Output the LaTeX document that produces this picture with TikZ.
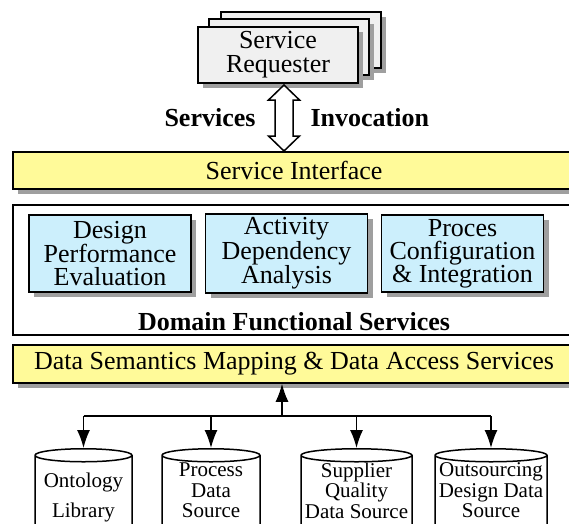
\documentclass[tikz,border=0pt]{standalone}
\usepackage{fontspec}
\setmainfont{Liberation Serif}
\usetikzlibrary{shapes.geometric,shadows,arrows.meta}

\begin{document}
\begin{tikzpicture}[x=1pt,y=-1pt,
  shade/.style={general shadow={fill=gray!75,shadow xshift=5pt,shadow yshift=-5pt}},
  reqbox/.style={draw,fill=gray!12,line width=1.5pt,minimum width=160pt,minimum height=56pt,shade},
  bar/.style={draw,fill=yellow!40,line width=1.5pt,minimum width=562pt,shade,font=\fontsize{26}{26}\selectfont},
  fbox/.style={draw,fill=cyan!20,line width=1.5pt,minimum width=162pt,minimum height=77pt,align=center,shade,font=\fontsize{26}{23}\selectfont},
  store/.style={cylinder,shape border rotate=90,draw,fill=white,line width=1.5pt,aspect=0.15,minimum height=88pt,anchor=north},
  storetext/.style={align=center,font=\fontsize{21}{20.5}\selectfont},
  bold/.style={font=\bfseries\fontsize{26}{26}\selectfont},
  link/.style={line width=1.5pt,-{Latex[length=18pt,width=13pt]}}]
\useasboundingbox (0,0) rectangle (569,523);
\clip (0,0) rectangle (569,523);
\node[reqbox] at (301,40) (req3) {};
\node[reqbox] at (289,47) (req2) {};
\node[reqbox,align=center,font=\fontsize{26}{24}\selectfont] at (278,55) (req) {Service\\Requester};
\coordinate (up) at (284,85);
\coordinate (dn) at (284,151);
\draw[line width=1.5pt,fill=white] (up) -- ++(15.5,15) -- ++(-6.5,0) -- ++(0,36) -- ++(6.5,0) -- (dn)
  -- ++(-15.5,-15) -- ++(6.5,0) -- ++(0,-36) -- ++(-6.5,0) -- cycle;
\node[bold,anchor=base east] at (259,126) (svc) {Services};
\node[bold,anchor=base west] at (307,126) (inv) {Invocation};
\node[bar,minimum height=37pt] at (294,170.5) (si) {Service Interface};
\node[draw,line width=1.5pt,minimum width=562pt,minimum height=130pt] at (294,270) (dom) {};
\node[bold,anchor=base] at (294,330) (domlbl) {Domain Functional Services};
\node[fbox] at (110,253.5) (dpe) {Design\\Performance\\Evaluation};
\node[fbox] at (286.5,253.5) (ada) {Activity\\Dependency\\Analysis};
\node[fbox] at (462.5,253.5) (pci) {Proces\\Configuration\\\& Integration};
\node[bar,minimum height=38pt] at (294,364) (data) {Data Semantics Mapping \& Data Access Services};
\node[store,minimum width=97pt] at (83.5,448) (lib) {\hspace*{80pt}};
\node[store,minimum width=98pt] at (211,448) (proc) {\hspace*{80pt}};
\node[store,minimum width=111pt] at (356.5,448) (sup) {\hspace*{80pt}};
\node[store,minimum width=112pt] at (491,448) (out) {\hspace*{80pt}};
\node[storetext,font=\fontsize{21}{30}\selectfont] at (83.5,497) (libtxt) {Ontology\\Library};
\node[storetext] at (211,490.5) (proctxt) {Process\\Data\\Source};
\node[storetext] at (356.5,490.5) (suptxt) {Supplier\\Quality\\Data Source};
\node[storetext] at (491,490.5) (outtxt) {Outsourcing\\Design Data\\Source};
\coordinate (hub) at (282,416);
\draw[link] (hub) -- (hub |- data.south);
\draw[line width=1.5pt] (lib.north |- hub) -- (out.north |- hub);
\foreach \s in {lib,proc,sup,out}
  \draw[link] (\s.north |- hub) -- (\s.north);
\end{tikzpicture}
\end{document}
